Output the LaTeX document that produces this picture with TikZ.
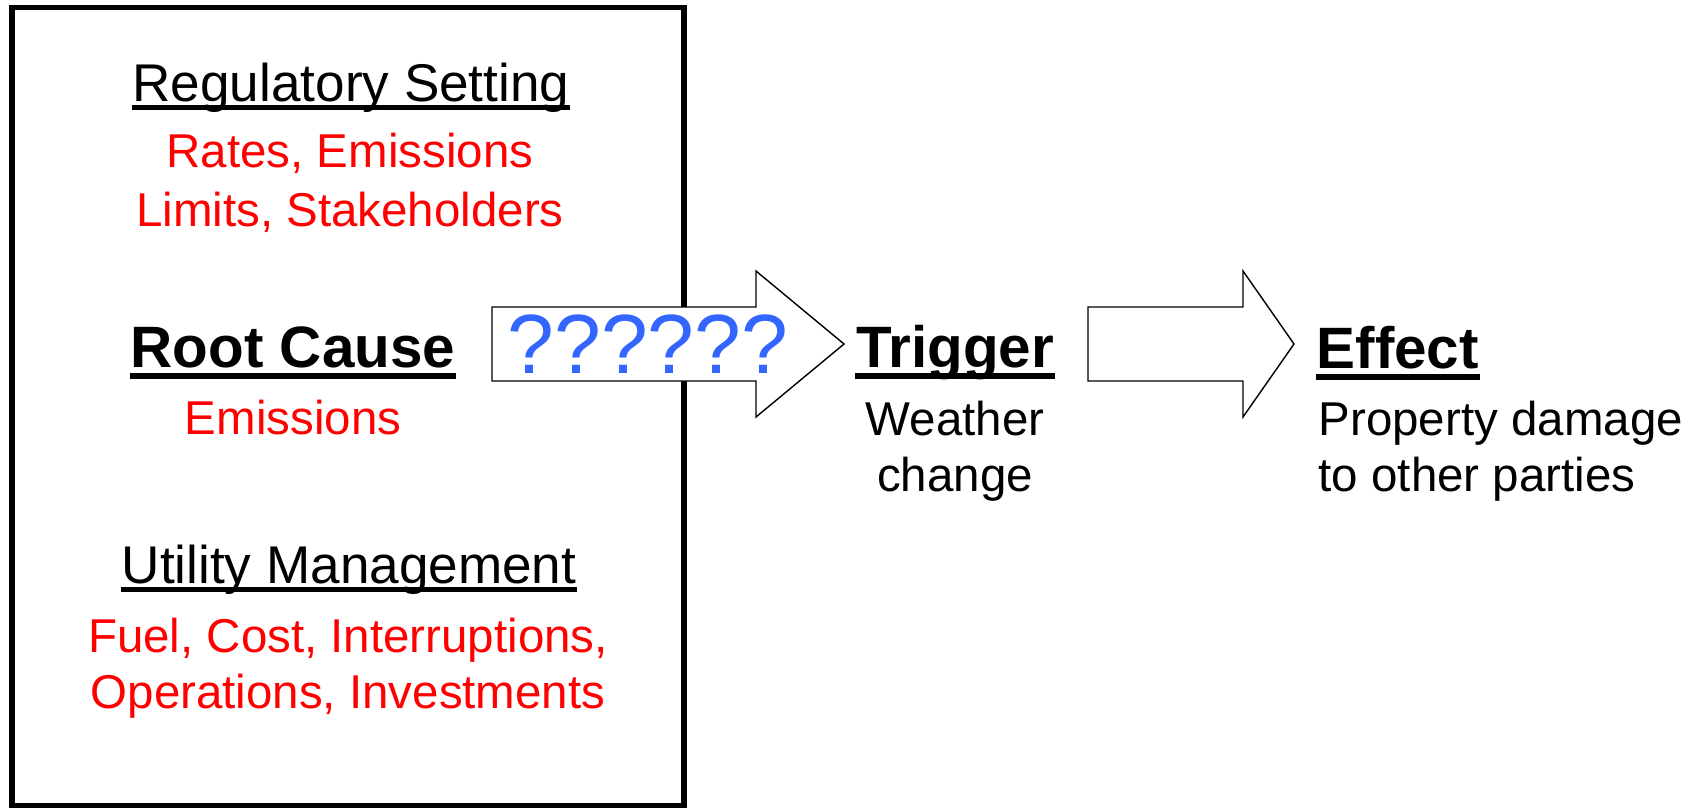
\documentclass[tikz,border=0pt]{standalone}
\usepackage{fontspec}
\setmainfont{Liberation Sans}
\usetikzlibrary{positioning}

\definecolor{qblue}{RGB}{51,102,255}

\begin{document}
\begin{tikzpicture}[x=0.01cm,y=-0.01cm,
    head/.style={font=\fontsize{15.1}{18}\selectfont, inner sep=0pt, anchor=base},
    bighead/.style={font=\fontsize{16.6}{20}\selectfont\bfseries, inner sep=0pt, anchor=base},
    item/.style={font=\fontsize{13.5}{16}\selectfont, inner sep=0pt, anchor=base},
    reditem/.style={item, text=red},
    blockarrow/.style={draw=black, fill=white, line width=0.4pt, line join=miter}]

\useasboundingbox (0,0) rectangle (1706,809);

% the big frame round the root causes
\draw [line width=1.6pt] (12,7.5) rectangle (684,805.5);

% block arrows
\foreach \xa/\xb/\xc in {492/756/844, 1088/1243/1294} {
    \draw [blockarrow] (\xa,307) -- (\xb,307) -- (\xb,271) -- (\xc,344)
        -- (\xb,417) -- (\xb,381) -- (\xa,381) -- cycle;
}
\node [font=\fontsize{23.9}{28}\selectfont, text=qblue, inner sep=0pt, anchor=base] (quest) at (648,373) {??????};

% left column
\node [head] (reg) at (351,101) {Regulatory Setting};
\node [reditem] (regA) at (350,167) {Rates, Emissions};
\node [reditem] (regB) at (350,226) {Limits, Stakeholders};

\node [bighead] (root) at (293,367) {Root Cause};
\node [reditem] (rootA) at (293,434) {Emissions};

\node [head] (util) at (349,583) {Utility Management};
\node [reditem] (utilA) at (348,652) {Fuel, Cost, Interruptions,};
\node [reditem] (utilB) at (348,708) {Operations, Investments};

% trigger and effect
\node [bighead] (trig) at (955,367) {Trigger};
\node [item] (trigA) at (955,435) {Weather};
\node [item] (trigB) at (955,491) {change};

\node [bighead, anchor=base west] (eff) at (1316,368) {Effect};
\node [item, anchor=base west] (effA) at (1318,435) {Property damage};
\node [item, anchor=base west] (effB) at (1318,491) {to other parties};

% underlines
\foreach \n in {reg, util} {
    \draw [line width=1.15pt] ([yshift=-1.85pt]\n.base west) -- ([yshift=-1.85pt]\n.base east);
}
\foreach \n in {root, trig, eff} {
    \draw [line width=1.7pt] ([yshift=-2.6pt]\n.base west) -- ([yshift=-2.6pt]\n.base east);
}

\end{tikzpicture}
\end{document}
